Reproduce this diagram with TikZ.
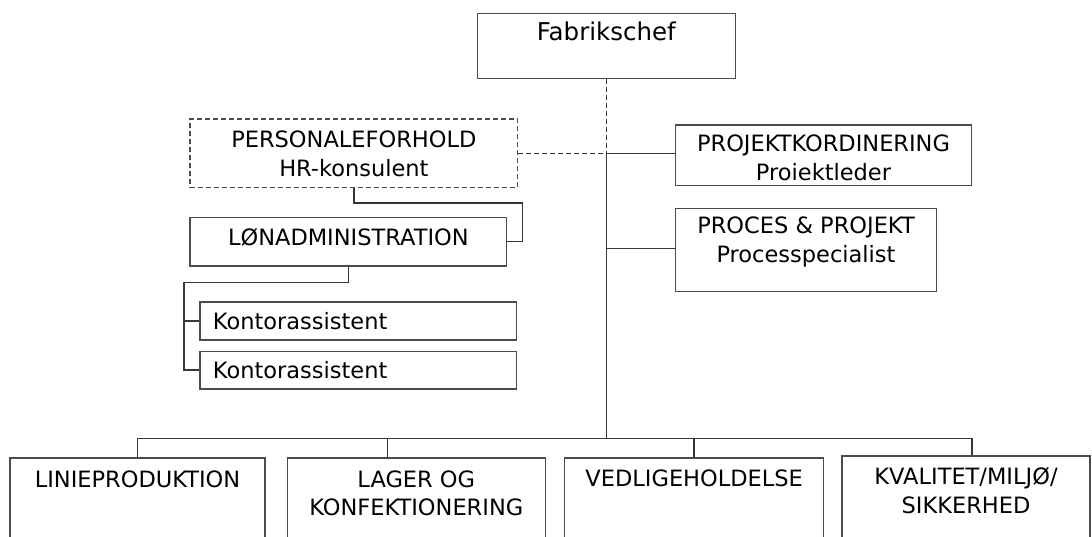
\documentclass[tikz,border=0pt]{standalone}
\usepackage{fontspec}
\setmainfont{DejaVu Sans}
\begin{document}
\begin{tikzpicture}[x=1pt, y=-1pt,
  unit/.style={draw=framegray, line width=1.5pt, inner sep=0pt},
  staff/.style={unit, dash pattern=on 5pt off 3pt},
  lbl/.style={align=center, inner sep=0pt, font=\fontsize{22.5}{28.5}\selectfont},
  link/.style={draw=linegray, line width=1.5pt},
  staffline/.style={link, dash pattern=on 5pt off 3pt}]
  \definecolor{framegray}{RGB}{75,75,75}
  \definecolor{linegray}{RGB}{55,55,55}
  \useasboundingbox (0,0) rectangle (1092,537);
  \fill[white] (0,0) rectangle (1092,537);
  % top of the chart
  \node[unit, minimum width=258pt, minimum height=65pt] (fab) at (606.3,46.2) {};
  \node[lbl, font=\fontsize{24.5}{29}\selectfont] (fabtext) at (606.3,31) {Fabrikschef};
  \node[staff, minimum width=327.7pt, minimum height=68.7pt] (hr) at (353.85,153.35) {};
  \node[lbl] (hrtext) at (353.85,154) {PERSONALEFORHOLD\\HR-konsulent};
  \node[unit, minimum width=296.4pt, minimum height=60.3pt] (proj) at (823.5,155.15) {};
  \node[lbl] (projtext) at (823.5,158) {PROJEKTKORDINERING\\Proiektleder};
  \node[unit, minimum width=261.4pt, minimum height=83.4pt] (proc) at (806,250) {};
  \node[lbl] (proctext) at (806,242) {PROCES \& PROJEKT\\Processpecialist};
  \node[unit, minimum width=316.7pt, minimum height=48.7pt] (lon) at (348.35,241.65) {};
  \node[lbl] (lontext) at (348.35,237) {LØNADMINISTRATION};
  \node[unit, minimum width=316.7pt, minimum height=38pt] (kont1) at (358.35,321) {};
  \node[lbl, anchor=west] (kont1text) at (212.7,321.5) {Kontorassistent};
  \node[unit, minimum width=316.7pt, minimum height=37.7pt] (kont2) at (358.35,370.15) {};
  \node[lbl, anchor=west] (kont2text) at (212.7,370.5) {Kontorassistent};
  % departments, cut off by the page edge
  \node[unit, minimum width=255pt, minimum height=92pt] (linie) at (137.5,504) {};
  \node[lbl] (linietext) at (137.5,479) {LINIEPRODUKTION};
  \node[unit, minimum width=258pt, minimum height=92pt] (lager) at (416.3,504) {};
  \node[lbl, font=\fontsize{22.5}{28}\selectfont] (lagertext) at (416.3,493) {LAGER OG\\KONFEKTIONERING};
  \node[unit, minimum width=259pt, minimum height=92pt] (vedl) at (694.2,504) {};
  \node[lbl] (vedltext) at (694.2,478) {VEDLIGEHOLDELSE};
  \node[unit, minimum width=248pt, minimum height=94pt] (kval) at (966,503) {};
  \node[lbl, font=\fontsize{22.5}{28.5}\selectfont] (kvaltext) at (966,490.5) {KVALITET/MILJØ/\\SIKKERHED};
  % connectors
  \coordinate (hrjoin) at (fab.south |- hr.east);
  \coordinate (procjoin) at (606.3,248.3);
  \coordinate (busjoin) at (606.3,438.5);
  \coordinate (lonbend) at (522.3,203);
  \coordinate (kontbend) at (184,282.7);
  \draw[staffline] (fab.south) -- (hrjoin);
  \draw[staffline] (hr.east) -- (hrjoin);
  \draw[link] (hrjoin) -- (busjoin);
  \draw[link] (hrjoin) -- (hrjoin -| proj.west);
  \draw[link] (procjoin) -- (procjoin -| proc.west);
  \draw[link] (hr.south) |- (lonbend) |- (lon.east);
  \draw[link] (lon.south) |- (kontbend) |- (kont1.west);
  \draw[link] (kontbend) |- (kont2.west);
  \draw[link] (busjoin) -| (linie.north);
  \draw[link] (busjoin) -| ([xshift=101pt]lager.north west);
  \draw[link] (busjoin) -| (vedl.north);
  \draw[link] (busjoin) -| ([xshift=130.7pt]kval.north west);
\end{tikzpicture}
\end{document}
